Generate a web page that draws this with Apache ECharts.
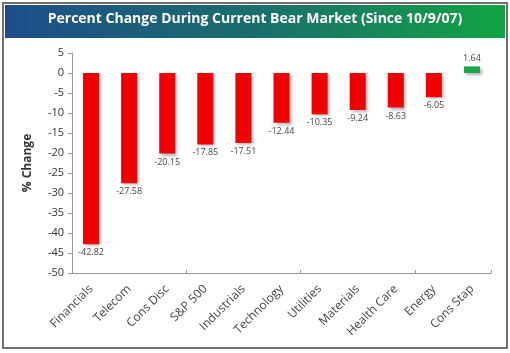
<!DOCTYPE html>
<html>
<head>
<meta charset="utf-8">
<script src="https://cdn.jsdelivr.net/npm/echarts@6/dist/echarts.min.js"></script>
<style>
  html, body { margin: 0; padding: 0; background: #fff; }
  #main { width: 510px; height: 353px; }
</style>
</head>
<body>
<div id="main"></div>
<script>
// sectors and % change since 10/9/07
var categories = ["Financials", "Telecom", "Cons Disc", "S&P 500", "Industrials",
  "Technology", "Utilities", "Materials", "Health Care", "Energy", "Cons Stap"];
var values = [-42.82, -27.58, -20.15, -17.85, -17.51, -12.44, -10.35, -9.24, -8.63, -6.05, 1.64];
var yTicks = [5, 0, -5, -10, -15, -20, -25, -30, -35, -40, -45, -50];

var chart = echarts.init(document.getElementById("main"));

var option = {
  animation: false,
  textStyle: { fontFamily: "Open Sans" },
  graphic: [
    {
      type: "rect",
      shape: { x: 3, y: 3, width: 504, height: 345 },
      style: { fill: "#fff", stroke: "#707070", lineWidth: 2 },
      z: -10
    },
    {
      type: "rect",
      shape: { x: 5, y: 5, width: 500, height: 33 },
      style: {
        fill: new echarts.graphic.LinearGradient(0, 0, 1, 0, [
          { offset: 0, color: "#1e4d8a" },
          { offset: 0.5, color: "#1a6e6c" },
          { offset: 1, color: "#13a344" }
        ])
      },
      z: -5
    },
    {
      type: "text",
      left: "center",
      top: 12,
      style: {
        text: "Percent Change During Current Bear Market (Since 10/9/07)",
        fill: "#fff",
        font: "bold 14px 'Open Sans'"
      }
    }
  ],
  grid: { left: 72, right: 19, top: 53, bottom: 80 },
  xAxis: [
    {
      type: "category",
      data: categories,
      position: "bottom",
      axisLine: { show: false },
      axisTick: { show: false },
      axisLabel: { rotate: 45, color: "#444", fontSize: 12, interval: 0, margin: 14 }
    },
    {
      type: "category",
      data: categories,
      position: "bottom",
      axisLine: { onZero: true, lineStyle: { color: "#999" } },
      axisTick: { show: true, length: 3, inside: true, lineStyle: { color: "#999" } },
      axisLabel: { show: false }
    }
  ],
  yAxis: {
    type: "value",
    min: yTicks[yTicks.length - 1],
    max: yTicks[0],
    interval: 5,
    name: "% Change",
    nameLocation: "middle",
    nameGap: 38,
    nameTextStyle: { fontWeight: "bold", fontSize: 12, color: "#333" },
    axisLine: { show: true, lineStyle: { color: "#999" } },
    axisTick: { show: true, length: 4, lineStyle: { color: "#999" } },
    axisLabel: { color: "#333", fontSize: 11, margin: 8 },
    splitLine: { show: false }
  },
  series: [
    {
      type: "bar",
      barWidth: 16,
      data: values.map(function (v) {
        return {
          value: v,
          itemStyle: { color: v < 0 ? "#f00000" : "#1aa84a" },
          label: { position: v < 0 ? "bottom" : "top" }
        };
      }),
      itemStyle: {
        shadowColor: "rgba(0,0,0,0.3)",
        shadowBlur: 3,
        shadowOffsetX: 2,
        shadowOffsetY: 2
      },
      label: {
        show: true,
        color: "#444",
        fontSize: 9,
        distance: 4,
        formatter: function (p) { return p.value.toFixed(2); }
      }
    }
  ]
};

chart.setOption(option);
</script>
</body>
</html>
